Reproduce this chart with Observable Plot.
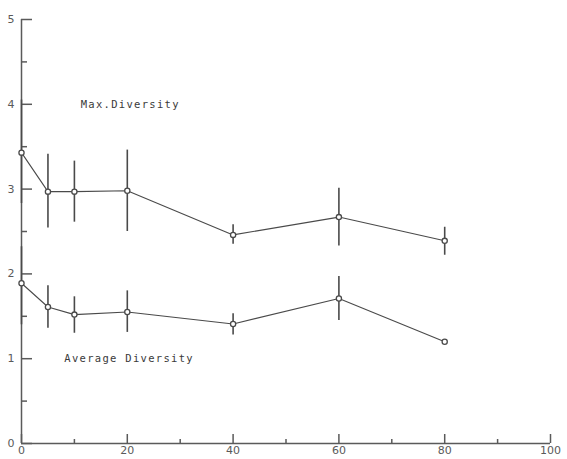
<!DOCTYPE html>
<html>
<head>
<meta charset="utf-8">
<script src="https://cdn.jsdelivr.net/npm/d3@7"></script>
<script src="https://cdn.jsdelivr.net/npm/@observablehq/plot@0.6"></script>
<style>
  html, body { margin: 0; padding: 0; background: #fff; }
  #chart g[aria-label="text"] text { letter-spacing: 1.3px; }
</style>
</head>
<body>
<div id="chart"></div>
<script>
const xs = [0, 5, 10, 20, 40, 60, 80];
const maxMean = [3.43, 2.97, 2.97, 2.98, 2.46, 2.67, 2.39];
const maxLow  = [2.83, 2.54, 2.61, 2.50, 2.35, 2.33, 2.22];
const maxHigh = [4.05, 3.41, 3.33, 3.46, 2.58, 3.01, 2.55];
const avgMean = [1.89, 1.61, 1.52, 1.55, 1.41, 1.71, 1.20];
const avgLow  = [1.40, 1.36, 1.30, 1.31, 1.28, 1.45, 1.18];
const avgHigh = [2.32, 1.86, 1.73, 1.80, 1.53, 1.97, 1.22];

const xMajor = [0, 20, 40, 60, 80, 100];
const xMinor = [10, 30, 50, 70, 90];
const yMajor = [0, 1, 2, 3, 4, 5];
const yMinor = [0.5, 1.5, 2.5, 3.5, 4.5];

const labels = [
  {text: "Max.Diversity", x: 11.2, y: 4.0},
  {text: "Average Diversity", x: 8.1, y: 1.0}
];

const series = [
  {name: "max", mean: maxMean, low: maxLow, high: maxHigh},
  {name: "avg", mean: avgMean, low: avgLow, high: avgHigh}
];
const rows = series.flatMap(s => xs.map((x, i) => ({series: s.name, x, y: s.mean[i], lo: s.low[i], hi: s.high[i]})));

const ink = "#4a4a4a";
const axisInk = "#5a5a5a";
const blank = () => "";

const chart = Plot.plot({
  width: 567,
  height: 459,
  marginLeft: 21,
  marginRight: 17,
  marginTop: 19,
  marginBottom: 16,
  style: {fontFamily: "DejaVu Sans", fontSize: "11px", color: axisInk, background: "#fff"},
  x: {domain: [0, 100], axis: null},
  y: {domain: [0, 5], axis: null},
  marks: [
    Plot.ruleX([0], {stroke: axisInk, strokeWidth: 1.5}),
    Plot.ruleY([0], {stroke: axisInk, strokeWidth: 1.5}),
    Plot.axisY({ticks: yMajor, label: null, tickSize: -11, tickFormat: blank, stroke: axisInk, strokeWidth: 1.5}),
    Plot.axisY({ticks: yMinor, label: null, tickSize: -6, tickFormat: blank, stroke: axisInk, strokeWidth: 1.5}),
    Plot.axisY({ticks: yMajor, label: null, tickSize: 0, tickPadding: 7, tickFormat: d3.format("d"), fill: axisInk, fontSize: 11}),
    Plot.axisX({ticks: xMajor, label: null, tickSize: -9, tickFormat: blank, stroke: axisInk, strokeWidth: 1.5}),
    Plot.axisX({ticks: xMinor, label: null, tickSize: -4, tickFormat: blank, stroke: axisInk, strokeWidth: 1.5}),
    Plot.axisX({ticks: xMajor, label: null, tickSize: 0, tickPadding: 3, tickFormat: d3.format("d"), fill: axisInk, fontSize: 11}),
    Plot.ruleX(rows, {x: "x", y1: "lo", y2: "hi", stroke: ink, strokeWidth: 1.6}),
    Plot.line(rows, {x: "x", y: "y", z: "series", stroke: ink, strokeWidth: 1.1}),
    Plot.dot(rows, {x: "x", y: "y", r: 2.6, stroke: ink, strokeWidth: 1.3, fill: "white"}),
    Plot.text(labels, {x: "x", y: "y", text: "text", textAnchor: "start", fontFamily: "DejaVu Sans Mono", fontSize: 10.5, fill: "#3a3a3a"})
  ]
});
document.getElementById("chart").appendChild(chart);
</script>
</body>
</html>
